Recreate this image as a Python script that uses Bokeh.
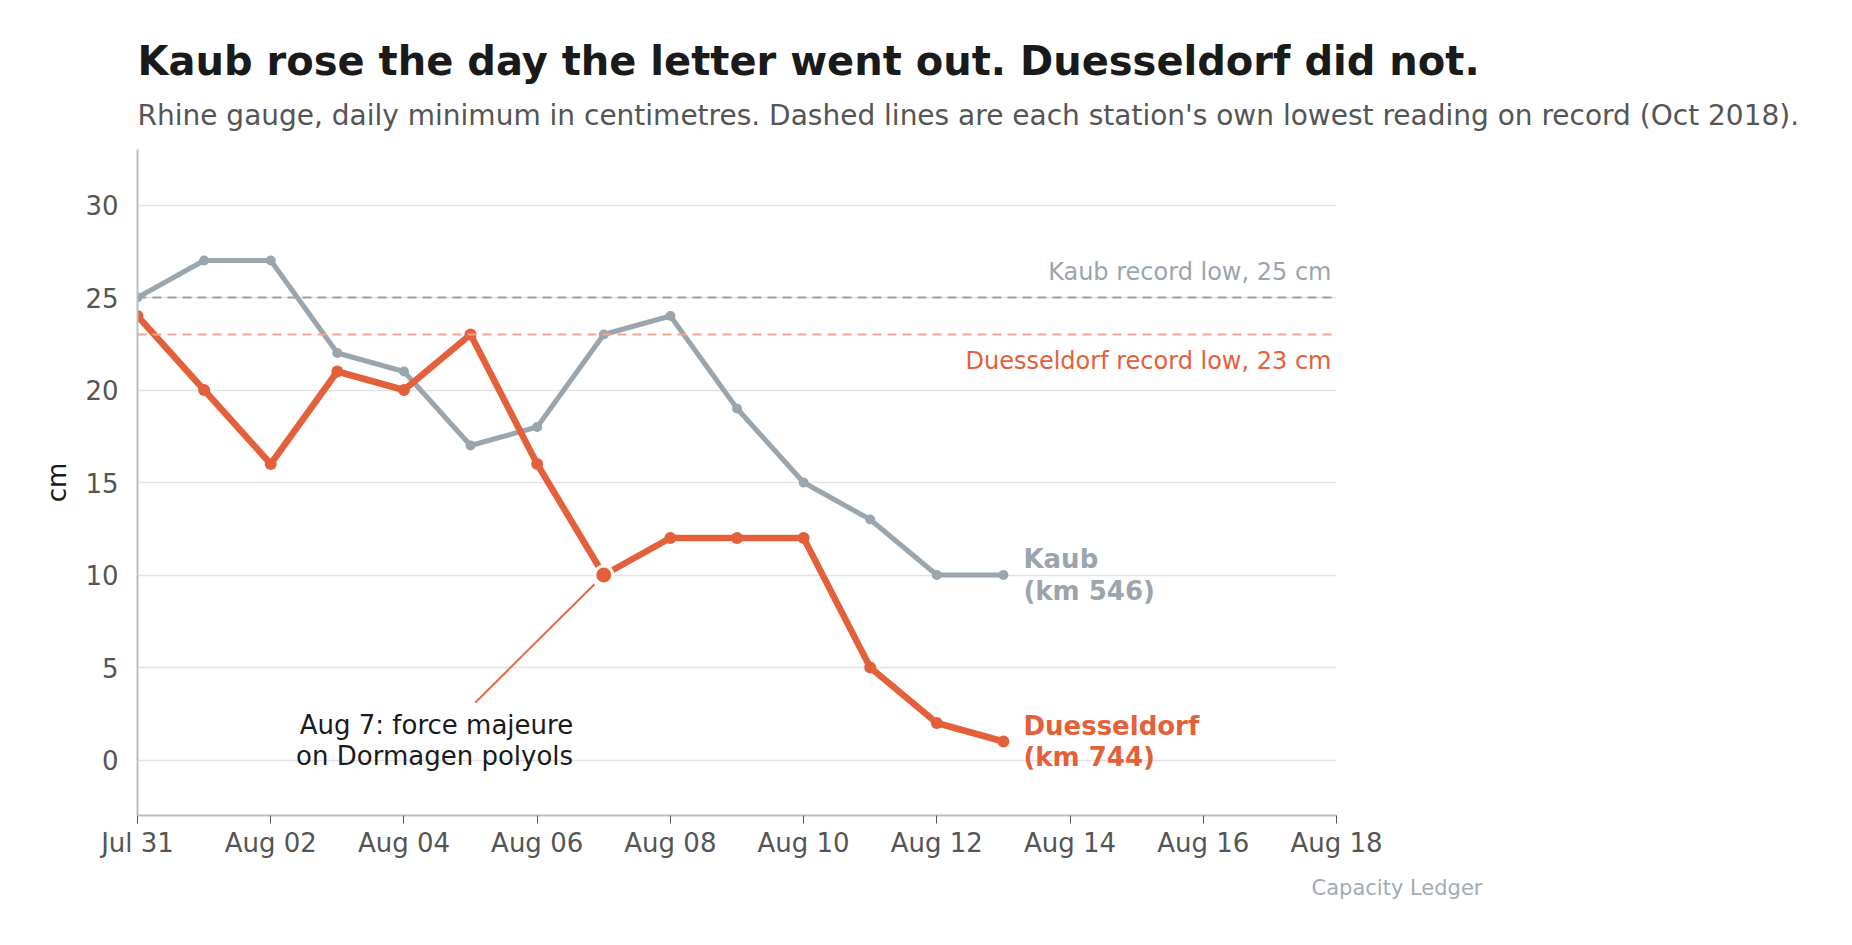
from datetime import datetime, timedelta
from bokeh.plotting import figure
from bokeh.models import Range1d, FixedTicker, DatetimeTickFormatter, Span, Label, ColumnDataSource, Title
from bokeh.embed import file_html
from bokeh.resources import INLINE

# ---- data ----
start_date = datetime(2022, 7, 31)
dates = [start_date + timedelta(days=i) for i in range(14)]
kaub_cm = [25, 27, 27, 22, 21, 17, 18, 23, 24, 19, 15, 13, 10, 10]
duesseldorf_cm = [24, 20, 16, 21, 20, 23, 16, 10, 12, 12, 12, 5, 2, 1]
kaub_record = 25
duesseldorf_record = 23
event_date = datetime(2022, 8, 7)
event_value = 10
y_ticks = [0, 5, 10, 15, 20, 25, 30]
x_tick_dates = [start_date + timedelta(days=2 * k) for k in range(10)]

title_text = "Kaub rose the day the letter went out. Duesseldorf did not."
subtitle_text = ("Rhine gauge, daily minimum in centimetres. Dashed lines are each station's "
                 "own lowest reading on record (Oct 2018).")
credit_text = "Capacity Ledger"

GRAY = "#9AA5AE"
ORANGE = "#E4603A"
FONT = "DejaVu Sans"

EPOCH = datetime(1970, 1, 1)


def ms(d):
    return (d - EPOCH).total_seconds() * 1000.0


DAY = 86400000.0
x0 = ms(start_date)
x1 = ms(start_date + timedelta(days=18))

W = 1836
LEFT = 137
FRAME_W = 1199

p = figure(width=W, height=912, output_backend="svg", toolbar_location=None,
           x_axis_type="datetime", x_range=Range1d(x0, x1), y_range=Range1d(-3, 33),
           min_border_left=LEFT, min_border_right=W - LEFT - FRAME_W, min_border_top=0,
           min_border_bottom=0)
p.outline_line_color = None

# ---- titles (stacked outward from the frame) ----
p.add_layout(Title(text=" ", text_font=FONT, text_font_size="10px", standoff=1.06), "above")
p.add_layout(Title(text=subtitle_text, text_font=FONT, text_font_size="28px", text_font_style="normal",
                   text_color="#555555", align="left", standoff=8), "above")
p.add_layout(Title(text=title_text, text_font=FONT, text_font_size="40px", text_font_style="bold",
                   text_color="#1a1a1a", align="left", standoff=16.84), "above")
p.add_layout(Title(text=" ", text_font=FONT, text_font_size="10px", standoff=13.66), "above")

# credit below the axis
p.add_layout(Title(text=credit_text, text_font=FONT, text_font_size="21px", text_font_style="normal",
                   text_color="#A3ABB3", align="right", offset=-146, standoff=26), "below")

# ---- axes ----
p.xaxis.ticker = FixedTicker(ticks=[ms(d) for d in x_tick_dates])
p.xaxis.formatter = DatetimeTickFormatter(days="%b %d", months="%b %d", hours="%b %d")
p.yaxis.ticker = FixedTicker(ticks=y_ticks)
for ax in (p.xaxis, p.yaxis):
    ax.axis_line_color = "#B8BFC6"
    ax.axis_line_width = 2
    ax.major_label_text_font = FONT
    ax.major_label_text_font_size = "26px"
    ax.major_label_text_color = "#555555"
    ax.minor_tick_line_color = None
p.xaxis.major_tick_line_color = "#555555"
p.xaxis.major_tick_line_width = 1
p.xaxis.major_tick_out = 8
p.xaxis.major_tick_in = 0
p.xaxis.major_label_standoff = 4
p.yaxis.major_tick_line_color = None
p.yaxis.major_label_standoff = 13
p.yaxis.axis_label = "cm"
p.yaxis.axis_label_text_font = FONT
p.yaxis.axis_label_text_font_style = "normal"
p.yaxis.axis_label_text_font_size = "26px"
p.yaxis.axis_label_text_color = "#1a1a1a"
p.yaxis.axis_label_standoff = 10

p.xgrid.grid_line_color = None
p.ygrid.grid_line_color = "#E2E2E2"
p.ygrid.grid_line_width = 1.5

# record lines
p.add_layout(Span(location=kaub_record, dimension="width", line_color="#9AA2AA",
                  line_width=2, line_dash="9 6"))
p.add_layout(Span(location=duesseldorf_record, dimension="width", line_color="#F2A590",
                  line_width=2, line_dash="9 6"))

# series
ks = ColumnDataSource(dict(x=[ms(d) for d in dates], y=kaub_cm))
ds = ColumnDataSource(dict(x=[ms(d) for d in dates], y=duesseldorf_cm))
p.line("x", "y", source=ks, line_color=GRAY, line_width=5)
p.scatter("x", "y", source=ks, size=10, fill_color=GRAY, line_color=None)
p.line("x", "y", source=ds, line_color=ORANGE, line_width=6.5)
p.scatter("x", "y", source=ds, size=12, fill_color=ORANGE, line_color=None)

# event annotation
ev_x = ms(event_date)
p.segment(x0=[ev_x - 1.93 * DAY], y0=[event_value - 6.9], x1=[ev_x - 0.14 * DAY], y1=[event_value - 0.5],
          line_color=ORANGE, line_width=1.8)
p.scatter([ev_x], [event_value], size=18, fill_color=ORANGE, line_color="white", line_width=3)
p.add_layout(Label(x=ev_x - 0.46 * DAY, y=event_value - 8.95, text="Aug 7: force majeure\non Dormagen polyols",
                   text_align="right", text_baseline="middle", text_font=FONT, text_font_size="26px",
                   text_color="#1a1a1a", text_line_height=1.05))

# end labels
p.add_layout(Label(x=ms(dates[-1]) + 0.3 * DAY, y=kaub_cm[-1], text="Kaub\n(km 546)",
                   text_align="left", text_baseline="middle", text_font=FONT, text_font_size="26px",
                   text_font_style="bold", text_color=GRAY, text_line_height=1.05))
p.add_layout(Label(x=ms(dates[-1]) + 0.3 * DAY, y=duesseldorf_cm[-1], text="Duesseldorf\n(km 744)",
                   text_align="left", text_baseline="middle", text_font=FONT, text_font_size="26px",
                   text_font_style="bold", text_color=ORANGE, text_line_height=1.05))

# record labels
p.add_layout(Label(x=x1, x_offset=-5, y=kaub_record, y_offset=26, text="Kaub record low, 25 cm",
                   text_align="right", text_baseline="middle", text_font=FONT, text_font_size="24px",
                   text_color=GRAY))
p.add_layout(Label(x=x1, x_offset=-5, y=duesseldorf_record, y_offset=-26, text="Duesseldorf record low, 23 cm",
                   text_align="right", text_baseline="middle", text_font=FONT, text_font_size="24px",
                   text_color=ORANGE))

open("out.html", "w").write(file_html(p, INLINE))
